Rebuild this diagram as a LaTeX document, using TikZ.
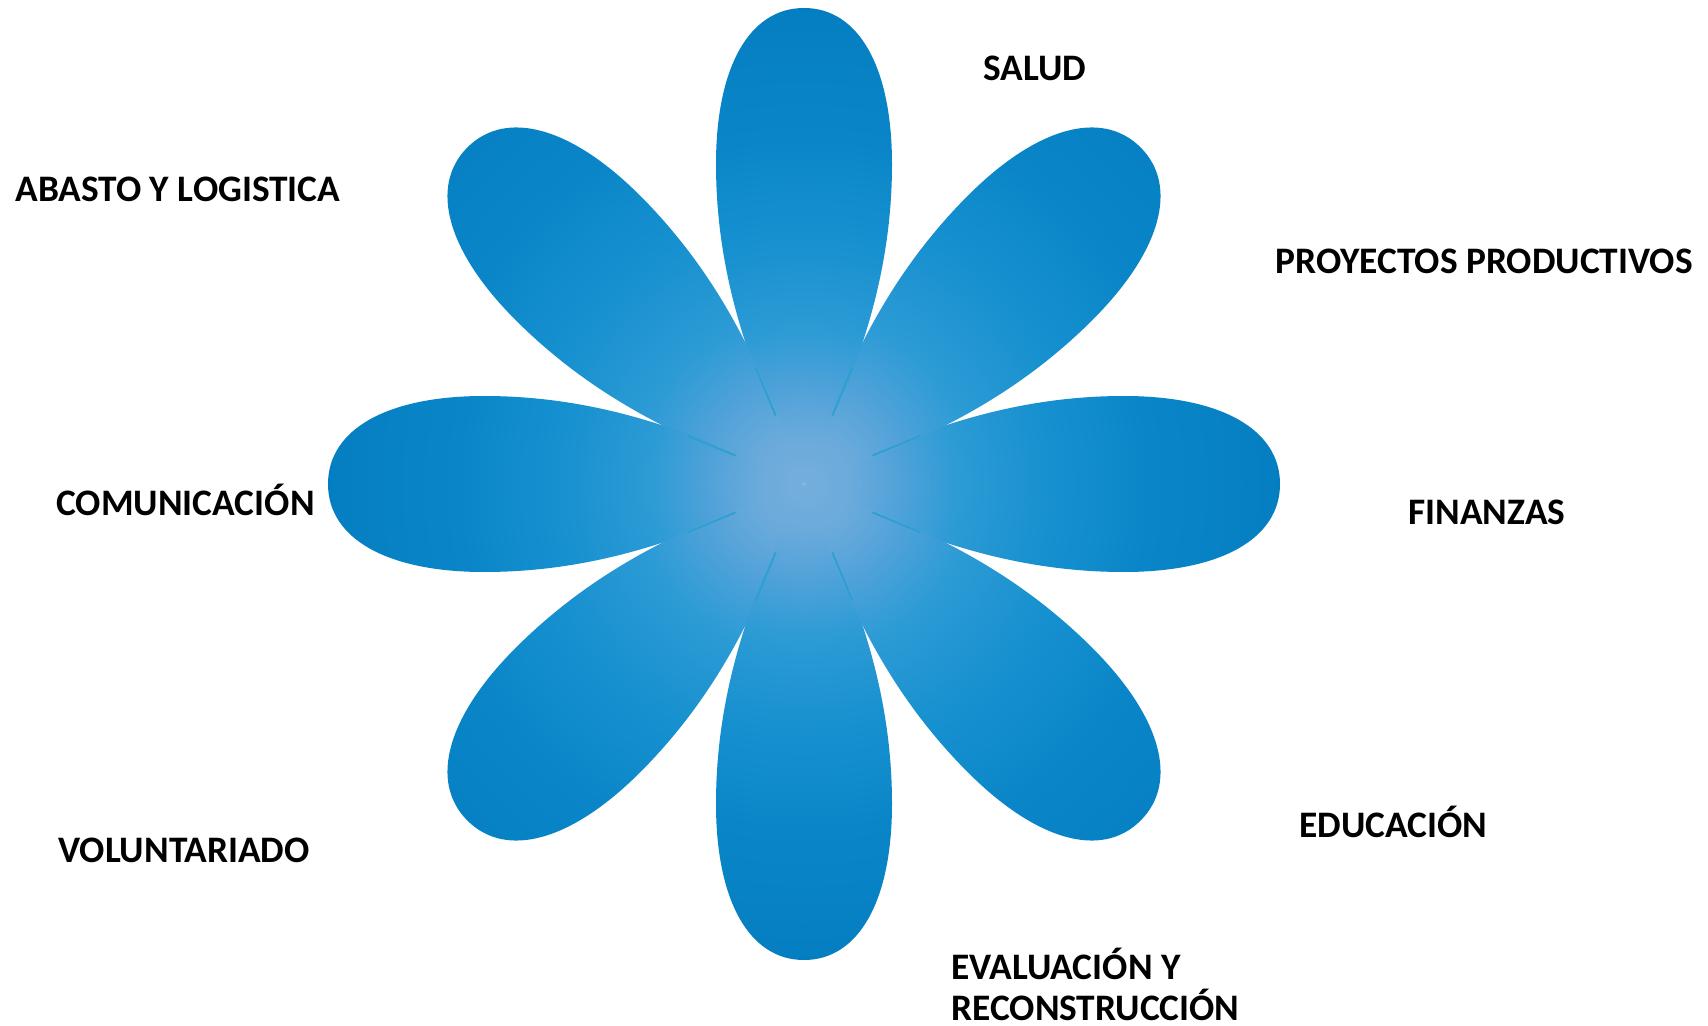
\documentclass[tikz,border=0pt]{standalone}
\usepackage{fontspec}
\setmainfont{Carlito}
\definecolor{fc0}{RGB}{118,174,220}
\definecolor{fc1}{RGB}{106,170,219}
\definecolor{fc2}{RGB}{80,162,217}
\definecolor{fc3}{RGB}{45,155,213}
\definecolor{fc4}{RGB}{22,144,207}
\definecolor{fc5}{RGB}{10,134,200}
\definecolor{fc6}{RGB}{4,126,192}
\definecolor{slit}{RGB}{44,160,208}
\pgfdeclareradialshading{flower}{\pgfpoint{0bp}{0bp}}{%
  color(0bp)=(fc0); color(2.5bp)=(fc1); color(5bp)=(fc2); color(8bp)=(fc3);
  color(13bp)=(fc4); color(18bp)=(fc5); color(25bp)=(fc6); color(50bp)=(fc6)}
\tikzset{
  lbl/.style={font=\fontsize{18.7}{22}\selectfont\bfseries, anchor=base west, inner sep=0pt, text=black},
  slitline/.style={draw=slit, line width=0.9pt}
}
\begin{document}
\begin{tikzpicture}[x=0.5pt,y=-0.5pt]
\useasboundingbox (0,0) rectangle (1708,1026);
\coordinate (c) at (804,484);
\foreach \a in {0,45,...,315}{
  \begin{scope}[shift={(c)}, rotate=\a]
    \clip (0,0) .. controls (90,42) and (190,88) .. (320,88)
      .. controls (417,88) and (476,54.6) .. (476,0)
      .. controls (476,-54.6) and (417,-88) .. (320,-88)
      .. controls (190,-88) and (90,-42) .. (0,0) -- cycle;
    \shade[shading=flower] (0,0) circle[radius=240pt];
  \end{scope}
}
\foreach \a in {22.5,67.5,...,337.5}{
  \begin{scope}[shift={(c)}, rotate=\a]
    \coordinate (s1) at (74,0);
    \coordinate (s2) at (126,0);
    \draw[slitline] (s1) -- (s2);
  \end{scope}
}
\node[lbl] (salud) at (983,81) {SALUD};
\node[lbl] (abasto) at (15,202) {ABASTO Y LOGISTICA};
\node[lbl] (proy) at (1275,274) {PROYECTOS PRODUCTIVOS};
\node[lbl] (comu) at (56,516) {COMUNICACIÓN};
\node[lbl] (fin) at (1408,524) {FINANZAS};
\node[lbl] (edu) at (1299,837) {EDUCACIÓN};
\node[lbl] (vol) at (58,862) {VOLUNTARIADO};
\node[lbl] (eval) at (951,979) {EVALUACIÓN Y};
\node[lbl] (recon) at (951,1020) {RECONSTRUCCIÓN};
\end{tikzpicture}
\end{document}
